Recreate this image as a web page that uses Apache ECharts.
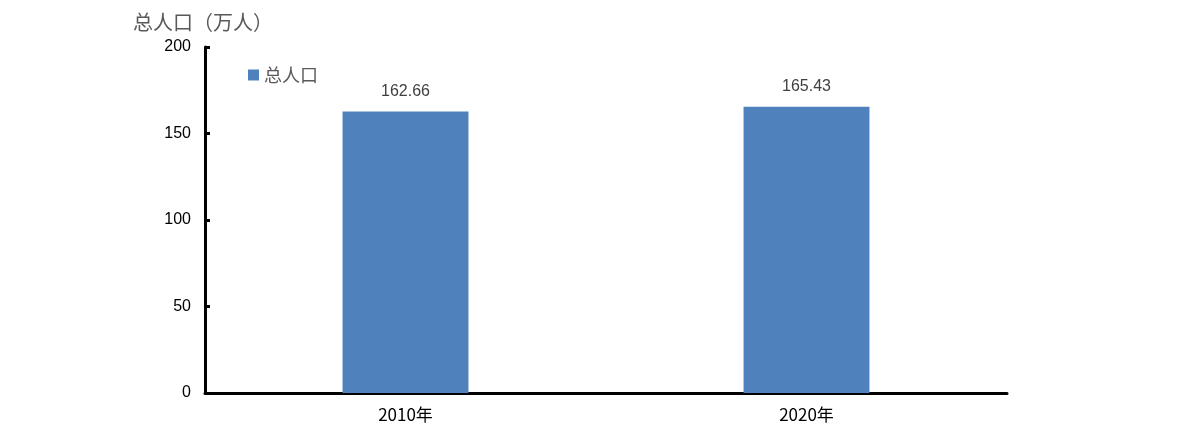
<!DOCTYPE html>
<html><head><meta charset="utf-8">
<script src="https://cdn.jsdelivr.net/npm/echarts@6/dist/echarts.min.js"></script>
<style>html,body{margin:0;padding:0;background:#fff}#c{width:1190px;height:437px}</style>
</head><body><div id="c"></div>
<script>
const categories = ['2010年', '2020年'];
const population = [162.66, 165.43];
const seriesName = '总人口';
const yTicks = [0, 50, 100, 150, 200];

const chart = echarts.init(document.getElementById('c'));
chart.setOption({
  animation: false,
  title: {
    text: '总人口（万人）', left: 128, top: 7,
    textStyle: { fontFamily: 'Noto Sans CJK SC', fontSize: 20, fontWeight: 'normal', color: '#595959' }
  },
  legend: {
    data: [seriesName], left: 243, top: 61, itemWidth: 11, itemHeight: 11, itemGap: 6,
    icon: 'rect',
    textStyle: { fontFamily: 'Noto Sans CJK SC', fontSize: 18, color: '#595959' }
  },
  grid: { left: 205, right: 183, top: 47, bottom: 44, containLabel: false },
  xAxis: {
    type: 'category', data: categories,
    axisLine: { lineStyle: { color: '#000', width: 3 } },
    axisTick: { show: false },
    axisLabel: { fontFamily: 'Noto Sans CJK SC', fontSize: 17, color: '#000', margin: 13 }
  },
  yAxis: {
    type: 'value', min: yTicks[0], max: yTicks[yTicks.length - 1], interval: 50,
    axisLine: { show: true, lineStyle: { color: '#000', width: 3 } },
    axisTick: { show: true, inside: true, length: 5, lineStyle: { color: '#000', width: 3 } },
    splitLine: { show: false },
    axisLabel: { fontFamily: 'Liberation Sans', fontSize: 16, color: '#000', margin: 14 }
  },
  series: [{
    name: seriesName, type: 'bar', data: population, barWidth: '31.4%',
    itemStyle: { color: '#4F81BD' },
    label: { show: true, position: 'top', distance: 12, fontFamily: 'Liberation Sans', fontSize: 16, color: '#404040' }
  }]
});
</script></body></html>
